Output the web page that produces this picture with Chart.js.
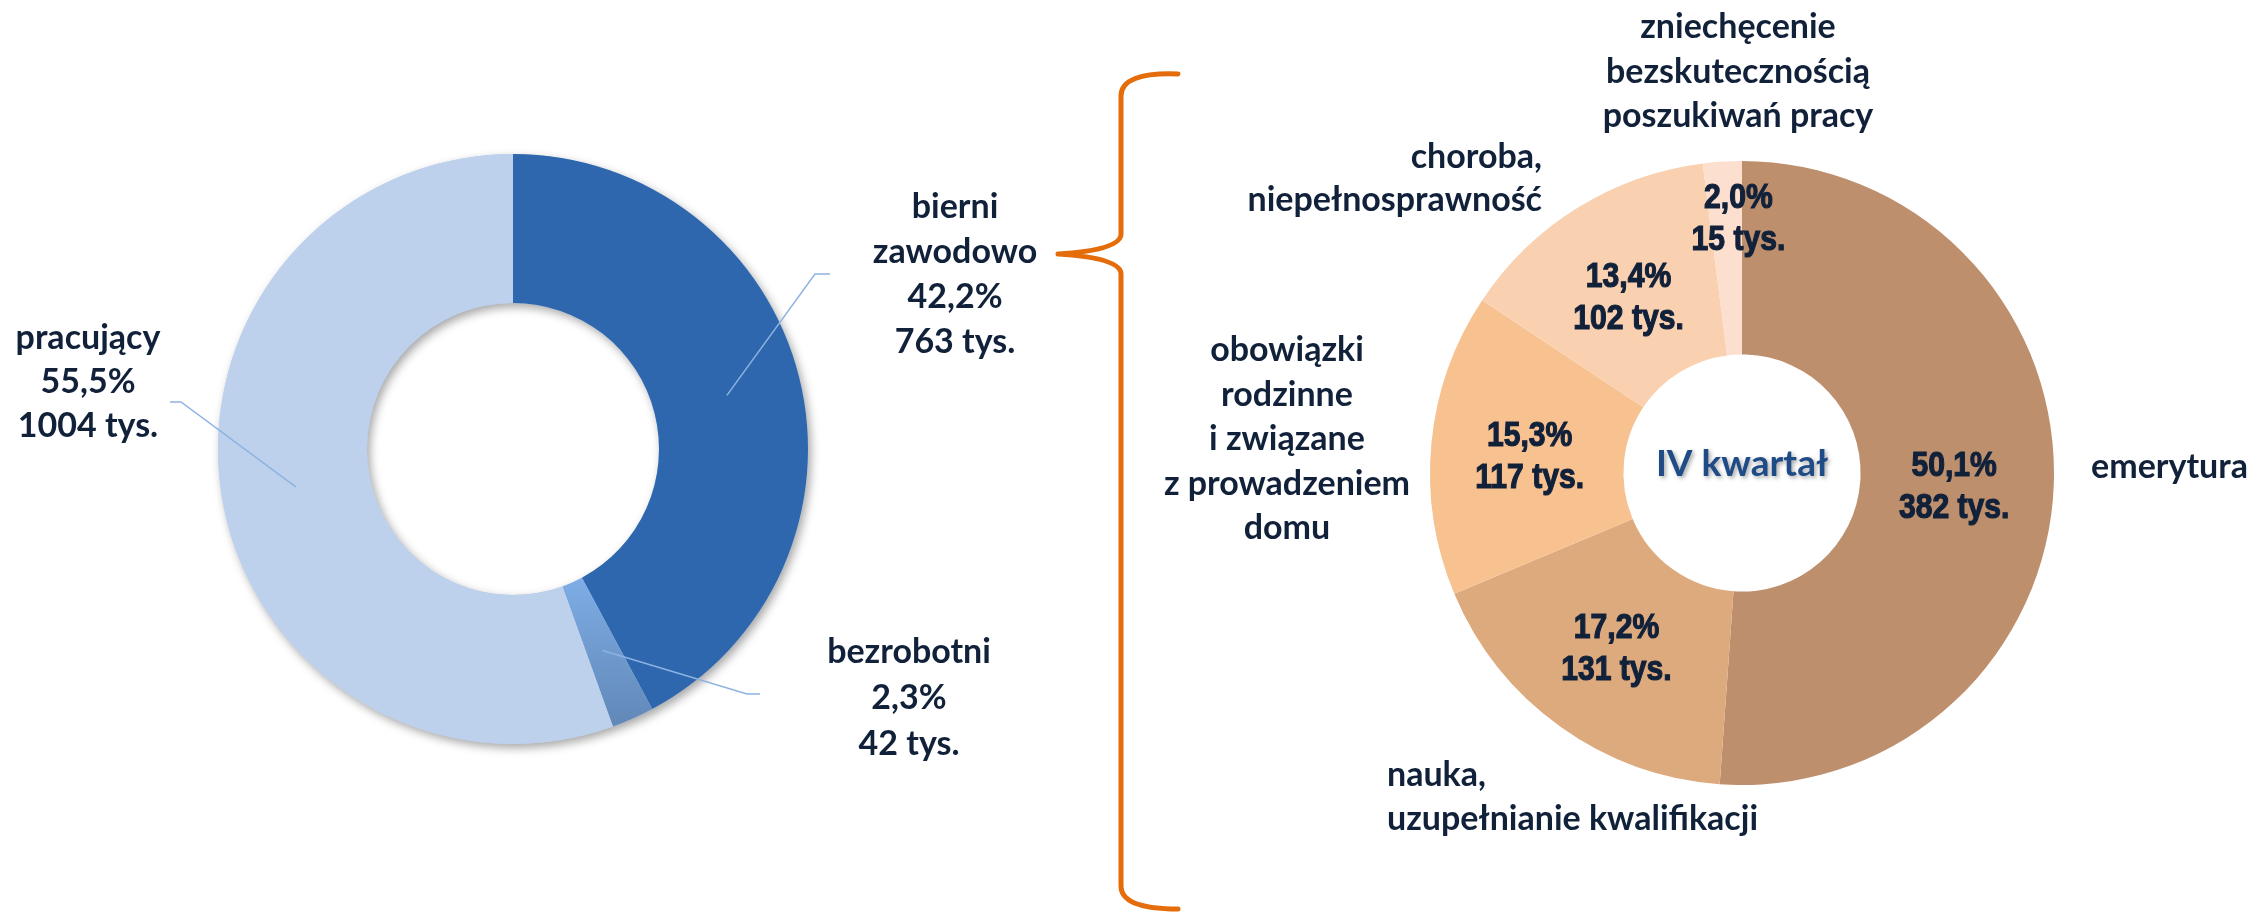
<!DOCTYPE html>
<html lang="pl">
<head>
<meta charset="utf-8">
<title>Ludność według statusu na rynku pracy – IV kwartał</title>
<script src="https://cdn.jsdelivr.net/npm/chart.js@4.4.1/dist/chart.umd.min.js"></script>
<style>
    html, body { margin: 0; padding: 0; background: #fff; overflow: hidden; }
    #wrap { position: relative; width: 2259px; height: 913px; }
    #wrap canvas { position: absolute; left: 0; top: 0; }
</style>
</head>
<body>
<div id="wrap">
    <canvas id="wykres-status" width="2259" height="913"></canvas>
    <canvas id="wykres-bierni" width="2259" height="913"></canvas>
</div>
<script>
// Status na rynku pracy (tys. osób)
const kategorieStatus = ['bierni zawodowo', 'bezrobotni', 'pracujący'];
const wartosciStatus = [763, 42, 1004];

// Bierni zawodowo według przyczyny (tys. osób)
const kategoriePrzyczyny = [
    'emerytura',
    'nauka, uzupełnianie kwalifikacji',
    'obowiązki rodzinne i związane z prowadzeniem domu',
    'choroba, niepełnosprawność',
    'zniechęcenie bezskutecznością poszukiwań pracy'
];
const wartosciPrzyczyny = [382, 131, 117, 102, 15];
const tytulSrodek = 'IV kwartał';

// Kolory i układ etykiet
const koloryStatus = ['#2E67AD', '#77A6DE', '#BDD1EC'];
const koloryPrzyczyny = ['#BE8F6C', '#DDAA7E', '#F8C190', '#FAD1B0', '#FCDFCF'];
const kolorTekstu = '#11213A';
const fontEtykiet = 'bold 34px Lato, "Open Sans", sans-serif';
const fontWewnatrz = 'bold 35px "Liberation Sans", Arial, sans-serif';
const zwezenie = 0.86; // wartości na wycinkach pisane węższym krojem

// wiersze nazw i położenie bloków (x, pierwsza linia bazowa, odstęp, wyrównanie)
const ukladStatus = [
    { wiersze: ['bierni', 'zawodowo'], x: 955, y: 218, dy: 45, align: 'center', lokiec: [815, 274], koniec: [830, 274] },
    { wiersze: ['bezrobotni'], x: 909, y: 663, dy: 46, align: 'center', lokiec: [747, 694], koniec: [760, 694] },
    { wiersze: ['pracujący'], x: 88, y: 349, dy: 44, align: 'center', lokiec: [181, 402], koniec: [170, 402] }
];
const ukladPrzyczyny = [
    { wiersze: ['emerytura'], x: 2091, y: 478, dy: 44, align: 'left', przes: [-3, 5] },
    { wiersze: ['nauka,', 'uzupełnianie kwalifikacji'], x: 1387, y: 786, dy: 44, align: 'left', przes: [0, 0] },
    { wiersze: ['obowiązki', 'rodzinne', 'i związane', 'z prowadzeniem', 'domu'], x: 1287, y: 361, dy: 44.5, align: 'center', przes: [2, 3] },
    { wiersze: ['choroba,', 'niepełnosprawność'], x: 1542, y: 168, dy: 43, align: 'right', przes: [0, 6] },
    { wiersze: ['zniechęcenie', 'bezskutecznością', 'poszukiwań pracy'], x: 1738, y: 38, dy: 44.5, align: 'center', przes: [10, -41] }
];

function procent(wartosc, baza) {
    return (wartosc / baza * 100).toFixed(1).replace('.', ',') + '%';
}

const sumaStatus = wartosciStatus.reduce((a, b) => a + b, 0);
const bazaPrzyczyny = wartosciStatus[0];

function napisz(ctx, wiersze, x, y, dy, align, obrys) {
    ctx.textAlign = align;
    ctx.textBaseline = 'alphabetic';
    wiersze.forEach((w, i) => {
        ctx.fillText(w, x, y + i * dy);
        if (obrys) ctx.strokeText(w, x, y + i * dy);
    });
}

// Lewy wykres – cień pierścienia, linie odniesienia i etykiety
const pluginStatus = {
    id: 'etykietyStatus',
    beforeDatasetsDraw(chart) {
        const ctx = chart.ctx;
        const arc = chart.getDatasetMeta(0).data[0];
        ctx.save();
        ctx.shadowColor = 'rgba(0, 0, 0, 0.35)';
        ctx.shadowBlur = 10;
        ctx.shadowOffsetX = 3;
        ctx.shadowOffsetY = 4;
        ctx.beginPath();
        ctx.arc(arc.x, arc.y, arc.outerRadius, 0, Math.PI * 2);
        ctx.arc(arc.x, arc.y, arc.innerRadius, 0, Math.PI * 2, true);
        ctx.fillStyle = koloryStatus[2];
        ctx.fill();
        ctx.restore();
    },
    afterDatasetsDraw(chart) {
        const ctx = chart.ctx;
        const meta = chart.getDatasetMeta(0);
        ctx.save();
        ctx.strokeStyle = '#8DB3E2';
        ctx.lineWidth = 1.5;
        ukladStatus.forEach((u, i) => {
            const p = meta.data[i].tooltipPosition();
            ctx.beginPath();
            ctx.moveTo(p.x, p.y);
            ctx.lineTo(u.lokiec[0], u.lokiec[1]);
            ctx.lineTo(u.koniec[0], u.koniec[1]);
            ctx.stroke();
        });
        ctx.fillStyle = kolorTekstu;
        ctx.font = fontEtykiet;
        ukladStatus.forEach((u, i) => {
            const wiersze = u.wiersze.concat([
                procent(wartosciStatus[i], sumaStatus),
                wartosciStatus[i] + ' tys.'
            ]);
            napisz(ctx, wiersze, u.x, u.y, u.dy, u.align);
        });
        ctx.restore();
    }
};

// Prawy wykres – klamra, etykiety w środku i na zewnątrz
const pluginPrzyczyny = {
    id: 'etykietyPrzyczyny',
    beforeDraw(chart) {
        const ctx = chart.ctx;
        ctx.save();
        ctx.strokeStyle = '#E46C0A';
        ctx.lineWidth = 5;
        ctx.lineCap = 'round';
        ctx.lineJoin = 'round';
        ctx.beginPath();
        ctx.moveTo(1178, 74);
        ctx.quadraticCurveTo(1121, 72, 1121, 96);
        ctx.lineTo(1121, 234);
        ctx.quadraticCurveTo(1121, 250, 1058, 254);
        ctx.quadraticCurveTo(1121, 258, 1121, 274);
        ctx.lineTo(1121, 886);
        ctx.quadraticCurveTo(1121, 909, 1178, 909);
        ctx.stroke();
        ctx.restore();
    },
    afterDatasetsDraw(chart) {
        const ctx = chart.ctx;
        const meta = chart.getDatasetMeta(0);
        const arc0 = meta.data[0];
        ctx.save();
        ctx.fillStyle = kolorTekstu;
        ctx.strokeStyle = kolorTekstu;

        // nazwy przyczyn poza pierścieniem
        ctx.font = fontEtykiet;
        ukladPrzyczyny.forEach(u => napisz(ctx, u.wiersze, u.x, u.y, u.dy, u.align));

        // wartości na wycinkach
        ctx.font = fontWewnatrz;
        ctx.lineWidth = 1.2;
        ukladPrzyczyny.forEach((u, i) => {
            const p = meta.data[i].tooltipPosition();
            ctx.save();
            ctx.translate(p.x + u.przes[0], p.y + u.przes[1] - 9.5);
            ctx.scale(zwezenie, 1);
            napisz(ctx, [procent(wartosciPrzyczyny[i], bazaPrzyczyny), wartosciPrzyczyny[i] + ' tys.'], 0, 0, 42, 'center', true);
            ctx.restore();
        });

        // podpis w środku
        ctx.font = 'bold 37px Lato, "Open Sans", sans-serif';
        ctx.fillStyle = '#1F4B86';
        ctx.shadowColor = 'rgba(0, 0, 0, 0.35)';
        ctx.shadowBlur = 4;
        ctx.shadowOffsetX = 2;
        ctx.shadowOffsetY = 2;
        ctx.textAlign = 'center';
        ctx.textBaseline = 'middle';
        ctx.fillText(tytulSrodek, arc0.x, arc0.y - 9);
        ctx.restore();
    }
};

const wspolneOpcje = {
    responsive: false,
    animation: false,
    events: [],
    plugins: { legend: { display: false }, tooltip: { enabled: false } }
};

new Chart(document.getElementById('wykres-status'), {
    type: 'doughnut',
    data: {
        labels: kategorieStatus,
        datasets: [{
            data: wartosciStatus,
            borderWidth: 0,
            backgroundColor: function (context) {
                const i = context.dataIndex;
                const area = context.chart.chartArea;
                if (i !== 1 || !area) return koloryStatus[i];
                const cy = (area.top + area.bottom) / 2;
                const r = (area.bottom - area.top) / 2;
                const g = context.chart.ctx.createLinearGradient(0, cy + r * 0.45, 0, cy + r);
                g.addColorStop(0, '#7DACE4');
                g.addColorStop(1, '#5E83B2');
                return g;
            }
        }]
    },
    options: Object.assign({}, wspolneOpcje, {
        cutout: '49.5%',
        layout: { padding: { left: 218, right: 1451, top: 154, bottom: 169 } }
    }),
    plugins: [pluginStatus]
});

new Chart(document.getElementById('wykres-bierni'), {
    type: 'doughnut',
    data: {
        labels: kategoriePrzyczyny,
        datasets: [{
            data: wartosciPrzyczyny,
            backgroundColor: koloryPrzyczyny,
            borderWidth: 0
        }]
    },
    options: Object.assign({}, wspolneOpcje, {
        cutout: '38%',
        layout: { padding: { left: 1430, right: 205, top: 161, bottom: 128 } }
    }),
    plugins: [pluginPrzyczyny]
});
</script>
</body>
</html>
